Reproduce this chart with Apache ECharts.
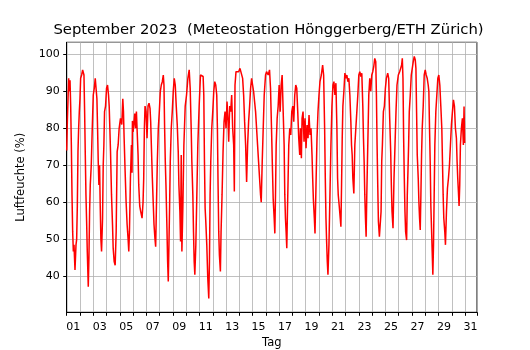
<!DOCTYPE html>
<html>
<head>
<meta charset="utf-8">
<script src="https://cdn.jsdelivr.net/npm/echarts@6/dist/echarts.min.js"></script>
<style>
  html, body { margin: 0; padding: 0; background: #fff; }
  #chart { width: 530px; height: 350px; }
</style>
</head>
<body>
<div id="chart"></div>
<script>
// Tick-Beschriftungen der x-Achse (jeder Tag, nur ungerade werden gezeigt)
const tagLabels = ['01', '02', '03', '04', '05', '06', '07', '08', '09', '10',
  '11', '12', '13', '14', '15', '16', '17', '18', '19', '20',
  '21', '22', '23', '24', '25', '26', '27', '28', '29', '30', '31']

const sep01bis05 = [
  [0, 74], [0.05, 82], [0.1, 88], [0.15, 93.5], [0.2, 90], [0.25, 93], [0.3, 86], [0.35, 75.5],
  [0.4, 62], [0.45, 52], [0.5, 46.7], [0.55, 48.5], [0.625, 41.7], [0.7, 48.5], [0.75, 50],
  [0.8, 59], [0.85, 73.7], [0.9, 80], [0.95, 84.5], [1.0, 88], [1.05, 93.5], [1.125, 94.4],
  [1.2, 95.8], [1.3, 94.4], [1.35, 84.5], [1.4, 72.8], [1.45, 62], [1.5, 54.8], [1.55, 46.7],
  [1.625, 37.2], [1.675, 45], [1.725, 57.5], [1.775, 64.7], [1.85, 70], [1.925, 80], [2.0, 89],
  [2.075, 90.8], [2.15, 93.5], [2.225, 94], [2.275, 88], [2.325, 80], [2.375, 71], [2.425, 64.7],
  [2.475, 70], [2.525, 59], [2.575, 50], [2.625, 46.7], [2.7, 55.7], [2.75, 70], [2.8, 75.5],
  [2.85, 84.5], [2.925, 86], [3.0, 90.8], [3.075, 91.7], [3.15, 89], [3.2, 86], [3.25, 80],
  [3.3, 73.7], [3.375, 62], [3.45, 54], [3.5, 47.6], [3.575, 44], [3.65, 43], [3.725, 52],
  [3.8, 73.7], [3.875, 75.5], [3.95, 80], [4.05, 82.7], [4.15, 81], [4.225, 88], [4.275, 84.5],
  [4.325, 77.3], [4.4, 68.3], [4.475, 60], [4.55, 54], [4.625, 50], [4.675, 46.7], [4.725, 52],
  [4.8, 66.5], [4.875, 75.5], [4.92, 68], [4.95, 82]
]
const sep06bis10 = [
  [5.0, 79], [5.125, 84], [5.18, 80], [5.25, 84.5], [5.375, 72.8], [5.425, 64.7], [5.5, 59],
  [5.575, 57.5], [5.675, 55.7], [5.75, 60], [5.8, 66.5], [5.85, 80], [5.9, 86], [5.975, 84.5],
  [6.05, 77.3], [6.125, 86], [6.2, 86.8], [6.275, 85.4], [6.325, 81.8], [6.375, 75.5],
  [6.45, 66.5], [6.525, 59], [6.575, 54], [6.65, 50], [6.7, 48], [6.75, 57.5], [6.825, 71],
  [6.9, 80], [6.975, 84.5], [7.05, 90], [7.125, 91.7], [7.2, 92.6], [7.275, 94.4], [7.325, 91.7],
  [7.375, 80], [7.425, 71], [7.475, 64.7], [7.55, 53], [7.6, 44], [7.65, 38.6], [7.7, 48.5],
  [7.75, 59], [7.8, 71], [7.875, 80], [7.95, 84.5], [8.025, 90], [8.1, 93.5], [8.175, 91.7],
  [8.25, 86], [8.325, 81], [8.4, 73.7], [8.45, 64.7], [8.525, 57.5], [8.575, 49.4], [8.625, 72.8],
  [8.675, 46.7], [8.75, 59], [8.825, 75.5], [8.925, 86], [9.025, 89], [9.125, 93.5], [9.225, 95.8],
  [9.3, 90.8], [9.375, 80], [9.425, 71], [9.5, 62], [9.55, 52], [9.6, 44], [9.65, 40.4],
  [9.725, 48.5], [9.8, 62], [9.875, 75.5], [9.975, 86]
]
const sep11bis15 = [
  [10.075, 94.4], [10.175, 94.9], [10.275, 94], [10.325, 89], [10.375, 71], [10.425, 58.4],
  [10.475, 54.8], [10.55, 48.5], [10.625, 39.5], [10.7, 34], [10.75, 44], [10.8, 62], [10.85, 71],
  [10.925, 80], [11.0, 84.5], [11.075, 90], [11.15, 92.6], [11.225, 91.7], [11.3, 89], [11.35, 80],
  [11.4, 64.7], [11.45, 52], [11.5, 45.8], [11.575, 41.3], [11.625, 52], [11.7, 62], [11.775, 73.7],
  [11.85, 81.8], [11.925, 84.5], [12.0, 80], [12.075, 87.2], [12.15, 81.8], [12.2, 76.4],
  [12.275, 86], [12.35, 84.5], [12.425, 89], [12.5, 80], [12.575, 75.5], [12.625, 62.9],
  [12.675, 91.7], [12.75, 95.3], [12.85, 95.8], [12.95, 95.3], [13.05, 96.2], [13.175, 95.8],
  [13.25, 93.5], [13.325, 89], [13.4, 81.8], [13.475, 75.5], [13.55, 65.5], [13.625, 75.5],
  [13.7, 81.8], [13.775, 86], [13.85, 90.8], [13.925, 93.5], [14.0, 91.7], [14.075, 90],
  [14.15, 87.2], [14.225, 84.5], [14.3, 80], [14.375, 75.5], [14.45, 71], [14.525, 66.5],
  [14.6, 62], [14.65, 60], [14.725, 71], [14.8, 80], [14.875, 89], [14.975, 94.4]
]
const sep16bis20 = [
  [15.05, 95.3], [15.175, 94.4], [15.275, 95.8], [15.35, 90.8], [15.425, 80], [15.5, 68.3],
  [15.55, 61], [15.625, 55.7], [15.675, 51.6], [15.725, 62], [15.775, 75.5], [15.85, 82.7],
  [15.925, 86], [16.0, 91.7], [16.075, 84.5], [16.15, 91.7], [16.225, 94.4], [16.3, 94.9],
  [16.375, 75.5], [16.425, 62], [16.475, 55.7], [16.525, 52], [16.575, 47.6], [16.625, 57.5],
  [16.675, 66.5], [16.725, 75.5], [16.8, 80], [16.875, 78.2], [16.95, 84.5], [17.025, 86],
  [17.1, 81.8], [17.175, 89], [17.25, 91.7], [17.325, 90.8], [17.4, 84.5], [17.475, 77.3],
  [17.55, 72.8], [17.6, 80], [17.675, 71.9], [17.725, 82.7], [17.8, 84.5], [17.875, 76.4],
  [17.95, 82.7], [18.025, 74.6], [18.1, 80.9], [18.175, 77.3], [18.25, 83.6], [18.325, 78.2],
  [18.4, 80], [18.475, 72.8], [18.525, 66.5], [18.575, 61], [18.65, 55.7], [18.7, 51.6],
  [18.775, 64.7], [18.85, 77.3], [18.925, 84.5], [19.0, 89], [19.075, 92.6], [19.175, 94.4],
  [19.275, 97.1], [19.35, 94.4], [19.425, 80], [19.475, 66.5], [19.525, 55.7], [19.575, 49.4],
  [19.625, 44], [19.675, 40.4], [19.75, 48.5], [19.825, 62], [19.9, 75.5], [19.975, 86]
]
const sep21bis25 = [
  [20.05, 91.7], [20.125, 92.6], [20.2, 89], [20.275, 92.2], [20.35, 80], [20.4, 66.5],
  [20.45, 62], [20.525, 59], [20.6, 55.7], [20.65, 53.4], [20.7, 64.7], [20.75, 77.3], [20.8, 86],
  [20.875, 90], [20.95, 94.9], [21.025, 93.5], [21.1, 94.4], [21.175, 92.6], [21.25, 93.5],
  [21.325, 89], [21.4, 81.8], [21.45, 75.5], [21.5, 72.8], [21.55, 66.5], [21.625, 62.4],
  [21.7, 75.5], [21.775, 80], [21.85, 84.5], [21.925, 89], [22.0, 94.4], [22.075, 95.3],
  [22.15, 94], [22.225, 94.9], [22.3, 86], [22.35, 77.3], [22.4, 71], [22.45, 62], [22.5, 55.7],
  [22.55, 50.7], [22.6, 62], [22.65, 71], [22.7, 80], [22.75, 89], [22.825, 93.5], [22.9, 90],
  [22.975, 94.4], [23.05, 95.3], [23.125, 96.7], [23.2, 98.9], [23.275, 98], [23.325, 89],
  [23.375, 75.5], [23.425, 64.7], [23.475, 54.8], [23.55, 50.7], [23.625, 50.3], [23.675, 57.5],
  [23.725, 71], [23.775, 75.5], [23.85, 84.5], [23.925, 86], [24.0, 90.8], [24.075, 93.5],
  [24.175, 94.9], [24.25, 93.5], [24.325, 82.7], [24.4, 73.7], [24.45, 64.7], [24.5, 57.5],
  [24.575, 53], [24.65, 66.5], [24.725, 75.5], [24.8, 84.5], [24.875, 91.7], [24.975, 94.4]
]
const sep26bis30 = [
  [25.075, 95.3], [25.15, 96.2], [25.225, 97.1], [25.275, 98.9], [25.325, 93.5], [25.375, 77.3],
  [25.425, 66.5], [25.475, 57.5], [25.525, 52], [25.6, 49.8], [25.65, 62], [25.7, 68.3],
  [25.75, 75.5], [25.8, 84.5], [25.875, 89], [25.95, 94.4], [26.025, 96.2], [26.1, 98],
  [26.175, 99.4], [26.25, 98.5], [26.3, 96.2], [26.35, 84.5], [26.4, 72.8], [26.475, 66.5],
  [26.525, 60], [26.575, 55.7], [26.625, 52.5], [26.675, 62], [26.725, 72.8], [26.775, 80],
  [26.85, 86], [26.925, 94.4], [27.0, 95.8], [27.075, 94.4], [27.15, 93.5], [27.225, 91.7],
  [27.275, 90], [27.325, 80], [27.375, 71], [27.425, 59], [27.475, 53], [27.525, 46.7],
  [27.575, 40.4], [27.625, 48.5], [27.675, 62], [27.725, 75.5], [27.8, 84.5], [27.875, 89],
  [27.95, 93.5], [28.025, 94.4], [28.1, 91.7], [28.175, 86], [28.25, 80], [28.3, 71], [28.35, 62],
  [28.4, 55.7], [28.475, 52], [28.525, 48.5], [28.6, 57.5], [28.675, 63.8], [28.75, 66.5],
  [28.825, 70], [28.9, 75.5], [28.975, 81], [29.05, 84.5], [29.125, 87.7], [29.2, 86],
  [29.275, 80], [29.35, 77.3], [29.4, 71], [29.45, 66.5], [29.5, 62.9], [29.55, 59],
  [29.6, 64.7], [29.65, 75.5], [29.725, 80], [29.8, 82.7], [29.875, 75.5], [29.925, 85.9],
  [29.97, 76]
]

const feuchteDaten = [].concat(sep01bis05, sep06bis10, sep11bis15, sep16bis20, sep21bis25, sep26bis30)

const FONT = 'DejaVu Sans'
const chart = echarts.init(document.getElementById('chart'), null, { renderer: 'canvas' })

chart.setOption({
  animation: false,
  backgroundColor: '#fff',
  title: {
    text: 'September 2023  (Meteostation Hönggerberg/ETH Zürich)',
    left: 263.5,
    textAlign: 'center',
    top: 18,
    textStyle: { fontFamily: FONT, fontSize: 14.8, fontWeight: 'normal', color: '#000' },
  },
  grid: {
    left: 66.7,
    right: 53,
    top: 42.3,
    bottom: 37.7,
    outerBoundsMode: 'none',
    containLabel: false,
    show: true,
    borderColor: '#000',
    borderWidth: 1,
  },
  xAxis: [
    {
      // Zeitachse: Ticks und Gitter an jedem Tag
      type: 'value',
      min: 0,
      max: 30.9,
      interval: 1,
      axisLine: { lineStyle: { color: '#000', width: 1 } },
      axisTick: { length: 3.5, lineStyle: { color: '#000' } },
      axisLabel: { show: false },
      splitLine: { show: true, lineStyle: { color: '#b0b0b0', width: 0.8 } },
    },
    {
      // Beschriftung in der Tagesmitte
      type: 'category',
      data: tagLabels,
      position: 'bottom',
      boundaryGap: true,
      axisLine: { show: false },
      axisTick: { show: false },
      splitLine: { show: false },
      axisLabel: { interval: 1, margin: 9, color: '#000', fontFamily: FONT, fontSize: 11 },
      name: 'Tag',
      nameLocation: 'middle',
      nameGap: 25,
      nameTextStyle: { color: '#000', fontFamily: FONT, fontSize: 11.5 },
    },
  ],
  yAxis: {
    type: 'value',
    min: 30.27,
    max: 103.24,
    splitNumber: 7,
    axisLine: { show: true, lineStyle: { color: '#000', width: 1 } },
    axisTick: { show: true, length: 3.5, lineStyle: { color: '#000' } },
    axisLabel: {
      showMinLabel: false,
      showMaxLabel: false,
      margin: 7,
      color: '#000',
      fontFamily: FONT,
      fontSize: 11,
    },
    splitLine: { show: true, lineStyle: { color: '#b0b0b0', width: 0.8 } },
    name: 'Luftfeuchte (%)',
    nameLocation: 'middle',
    nameGap: 40,
    nameTextStyle: { color: '#000', fontFamily: FONT, fontSize: 11.5 },
  },
  series: [
    {
      name: 'Luftfeuchte',
      type: 'line',
      xAxisIndex: 0,
      data: feuchteDaten,
      showSymbol: false,
      lineStyle: { color: '#ff0000', width: 1.5 },
      clip: true,
    },
  ],
})
</script>
</body>
</html>
